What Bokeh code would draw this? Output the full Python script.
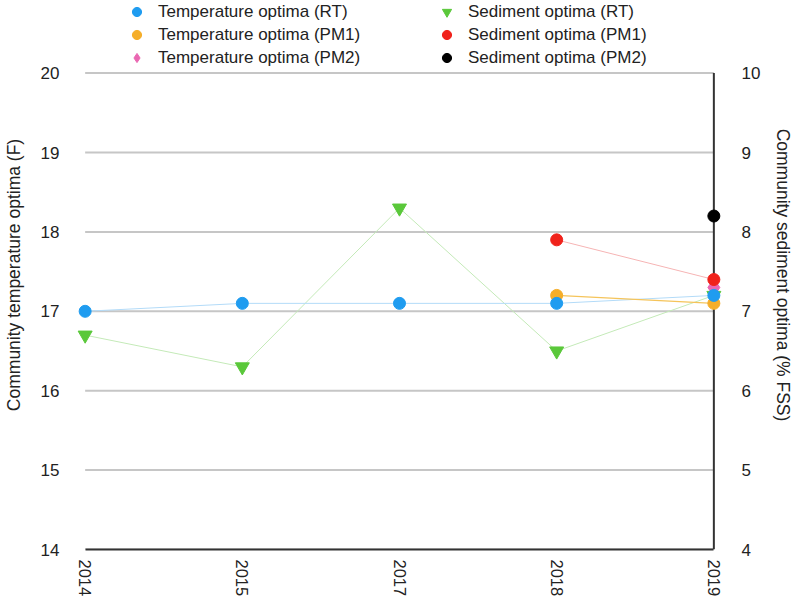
import math
from bokeh.plotting import figure
from bokeh.models import Range1d, LinearAxis, FixedTicker, Legend, LegendItem
from bokeh.embed import file_html
from bokeh.resources import INLINE

years = ["2014", "2015", "2017", "2018", "2019"]

temp_rt_years = ["2014", "2015", "2017", "2018", "2019"]
temp_rt = [17.0, 17.1, 17.1, 17.1, 17.2]
temp_pm1_years = ["2018", "2019"]
temp_pm1 = [17.2, 17.1]
temp_pm2_years = ["2019"]
temp_pm2 = [17.3]

sed_rt_years = ["2014", "2015", "2017", "2018", "2019"]
sed_rt = [6.7, 6.3, 8.3, 6.5, 7.2]
sed_pm1_years = ["2018", "2019"]
sed_pm1 = [7.9, 7.4]
sed_pm2_years = ["2019"]
sed_pm2 = [8.2]

left_ticks = [14, 15, 16, 17, 18, 19, 20]
right_ticks = [4, 5, 6, 7, 8, 9, 10]

def xi(ys):
    return [years.index(y) for y in ys]

FONT = "Liberation Sans"
W, H = 796, 599
FRAME_L, FRAME_R, FRAME_B = 65, 737, 552   # frame in figure pixels (x pad for edge markers)
FRAME_TOP_TICK = 73                         # pixel row of the top gridline
PAD = 10                                    # px of padding beyond first/last year
n = len(years) - 1
xpx = (FRAME_R - FRAME_L - 2 * PAD) / n
xpad = PAD / xpx
lo, hi = left_ticks[0], left_ticks[-1]
ppu = (FRAME_B - FRAME_TOP_TICK) / (hi - lo)
ytop = lo + FRAME_B / ppu                   # frame reaches top of figure (room for legend)
roff = lo - right_ticks[0]

p = figure(width=W, height=H, output_backend="svg", toolbar_location=None,
           x_range=Range1d(-xpad, n + xpad), y_range=Range1d(lo, ytop),
           min_border_left=FRAME_L, min_border_right=W - FRAME_R,
           min_border_top=0, min_border_bottom=H - FRAME_B)
p.outline_line_color = None
p.background_fill_color = "white"
p.extra_y_ranges = {"sed": Range1d(right_ticks[0], ytop - roff)}
p.xgrid.grid_line_color = None
p.ygrid.grid_line_color = None

# axes
p.xaxis.ticker = FixedTicker(ticks=list(range(len(years))))
p.xaxis.major_label_overrides = {i: y for i, y in enumerate(years)}
p.xaxis.major_label_orientation = -math.pi / 2
p.xaxis.bounds = (0, n)
p.xaxis.axis_line_color = "#333333"
p.xaxis.axis_line_width = 2
p.xaxis.major_tick_line_color = None
p.xaxis.minor_tick_line_color = None
p.xaxis.major_label_standoff = 4
p.xaxis.major_label_text_font = FONT
p.xaxis.major_label_text_font_size = "16.5px"
p.xaxis.major_label_text_color = "#222222"

p.yaxis.ticker = FixedTicker(ticks=left_ticks)
p.yaxis.bounds = (lo, hi)
p.yaxis.axis_line_color = None
p.yaxis.major_tick_line_color = None
p.yaxis.minor_tick_line_color = None
p.yaxis.major_label_standoff = 10
p.yaxis.major_label_text_font = FONT
p.yaxis.major_label_text_font_size = "17px"
p.yaxis.major_label_text_color = "#222222"
p.yaxis.axis_label = "Community temperature optima (F)"
p.yaxis.axis_label_text_font = FONT
p.yaxis.axis_label_text_font_style = "normal"
p.yaxis.axis_label_text_font_size = "17.5px"
p.yaxis.axis_label_text_color = "#222222"
p.yaxis.axis_label_standoff = 14

ra = LinearAxis(y_range_name="sed", ticker=FixedTicker(ticks=right_ticks),
                axis_label="Community sediment optima (% FSS)")
ra.bounds = (right_ticks[0], right_ticks[-1])
ra.axis_line_color = None
ra.major_tick_line_color = None
ra.minor_tick_line_color = None
ra.major_label_standoff = 12
ra.major_label_text_font = FONT
ra.major_label_text_font_size = "17px"
ra.major_label_text_color = "#222222"
ra.axis_label_text_font = FONT
ra.axis_label_text_font_style = "normal"
ra.axis_label_text_font_size = "17.5px"
ra.axis_label_text_color = "#222222"
ra.axis_label_standoff = 10
ra.axis_label_orientation = "vertical"
p.add_layout(ra, "right")

# horizontal grid lines between first and last year, and right axis rule at last year
p.segment(x0=[0] * len(left_ticks), x1=[n] * len(left_ticks), y0=left_ticks, y1=left_ticks,
          line_color="#c6c6c6", line_width=2)
p.segment(x0=[n], x1=[n], y0=[lo], y1=[hi], line_color="#333333", line_width=2)

# lines
p.line(xi(sed_rt_years), sed_rt, y_range_name="sed", line_color="#c4eab8", line_width=1)
p.line(xi(sed_pm1_years), sed_pm1, y_range_name="sed", line_color="#f6b4b4", line_width=1)
p.line(xi(temp_rt_years), temp_rt, line_color="#b3dbf8", line_width=1)
p.line(xi(temp_pm1_years), temp_pm1, line_color="#f5c45a", line_width=1.2)

# markers
r_srt = p.scatter(xi(sed_rt_years), sed_rt, y_range_name="sed", marker="inverted_triangle",
                  size=14, fill_color="#5ac83a", line_color="#5ac83a")
r_tpm1 = p.scatter(xi(temp_pm1_years), temp_pm1, marker="circle", size=12,
                   fill_color="#f5ae2a", line_color="#f5ae2a")
r_tpm2 = p.scatter(xi(temp_pm2_years), temp_pm2, marker="diamond", size=18,
                   fill_color="#ea67b2", line_color="#ea67b2")
r_spm2 = p.scatter(xi(sed_pm2_years), sed_pm2, y_range_name="sed", marker="circle", size=12,
                   fill_color="#000000", line_color="#000000")
r_spm1 = p.scatter(xi(sed_pm1_years), sed_pm1, y_range_name="sed", marker="circle", size=12,
                   fill_color="#f0221b", line_color="#f0221b")
r_trt = p.scatter(xi(temp_rt_years), temp_rt, marker="circle", size=12,
                  fill_color="#1f9cf0", line_color="#1f9cf0")

legend = Legend(items=[
    LegendItem(label="Temperature optima (RT)", renderers=[r_trt]),
    LegendItem(label="Temperature optima (PM1)", renderers=[r_tpm1]),
    LegendItem(label="Temperature optima (PM2)", renderers=[r_tpm2]),
    LegendItem(label="Sediment optima (RT)", renderers=[r_srt]),
    LegendItem(label="Sediment optima (PM1)", renderers=[r_spm1]),
    LegendItem(label="Sediment optima (PM2)", renderers=[r_spm2]),
], ncols=2, location=(50, 480))
legend.border_line_color = None
legend.background_fill_alpha = 0
legend.padding = 0
legend.margin = 0
legend.spacing = 0
legend.glyph_width = 23
legend.glyph_height = 23
legend.label_height = 23
legend.label_standoff = 10
legend.label_width = 277
legend.label_text_font = FONT
legend.label_text_font_size = "17px"
legend.label_text_color = "#222222"
p.add_layout(legend, "center")

open("out.html", "w").write(file_html(p, INLINE))
